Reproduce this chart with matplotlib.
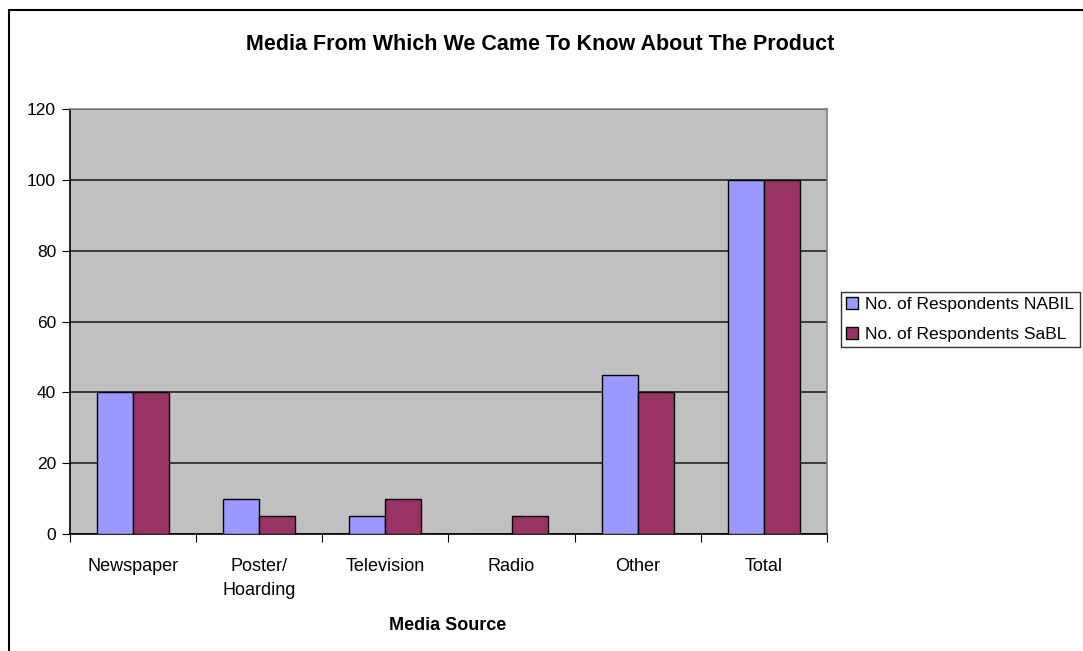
import matplotlib
matplotlib.use("Agg")
import matplotlib.pyplot as plt
import numpy as np
from matplotlib.patches import Rectangle

plt.rcParams['font.family'] = ['Liberation Sans', 'DejaVu Sans']

categories = ["Newspaper", "Poster/\nHoarding", "Television", "Radio", "Other", "Total"]
nabil = [40, 10, 5, 0, 45, 100]
sabl = [40, 5, 10, 5, 40, 100]
series_names = ["No. of Respondents NABIL", "No. of Respondents SaBL"]
colors = ["#9999FF", "#993366"]

W, H = 1083, 651
fig = plt.figure(figsize=(W / 100, H / 100), dpi=100)

# outer chart border (runs past the right and bottom edges)
fig.patches.append(Rectangle((9 / W, -0.05), 1.2, 1 - 10 / H + 0.05,
                             transform=fig.transFigure, fill=False,
                             edgecolor="black", linewidth=1.5))

left, right = 70 / W, 827 / W
bottom, top = 1 - 534 / H, 1 - 109 / H
ax = fig.add_axes([left, bottom, right - left, top - bottom])
ax.set_facecolor("#C0C0C0")

x = np.arange(len(categories))
bw = 1 / 3.5
ax.bar(x - bw / 2, nabil, width=bw, color=colors[0], edgecolor="black",
       linewidth=1, label=series_names[0], zorder=3)
ax.bar(x + bw / 2, sabl, width=bw, color=colors[1], edgecolor="black",
       linewidth=1, label=series_names[1], zorder=3)

ax.set_xlim(-0.5, len(categories) - 0.5)
ax.set_ylim(0, 120)
ax.set_yticks(np.arange(0, 121, 20))
ax.yaxis.grid(True, color="#222222", linewidth=1.2, zorder=1)
ax.set_axisbelow(True)

ax.set_xticks(np.arange(-0.5, len(categories), 1))
ax.set_xticklabels([])
ax.set_xticks(x, minor=True)
ax.set_xticklabels(categories, minor=True, fontsize=13, linespacing=1.6)
ax.tick_params(axis="x", which="minor", length=0, pad=17)
ax.tick_params(axis="x", which="major", length=6, direction="out", color="black")
ax.tick_params(axis="y", length=6, direction="out", labelsize=12.5, pad=4)

for s in ["top", "right"]:
    ax.spines[s].set_color("#808080")
    ax.spines[s].set_linewidth(1.2)
for s in ["left", "bottom"]:
    ax.spines[s].set_color("black")
    ax.spines[s].set_linewidth(1.2)

fig.text(448 / W, 1 - 625 / H, "Media Source", ha="center", va="center",
         fontsize=13, fontweight="bold")
fig.text(540 / W, 1 - 45 / H, "Media From Which We Came To Know About The Product",
         ha="center", va="center", fontsize=15.5, fontweight="bold")

leg = fig.legend(loc="upper left", bbox_to_anchor=(841 / W, 1 - 292 / H),
                 frameon=True, fancybox=False, fontsize=12.5, handlelength=0.7,
                 handleheight=0.7, handletextpad=0.4, borderpad=0.3,
                 labelspacing=0.85, borderaxespad=0)
leg.get_frame().set_edgecolor("black")
leg.get_frame().set_linewidth(1)

fig.savefig("out.png", dpi=100)
